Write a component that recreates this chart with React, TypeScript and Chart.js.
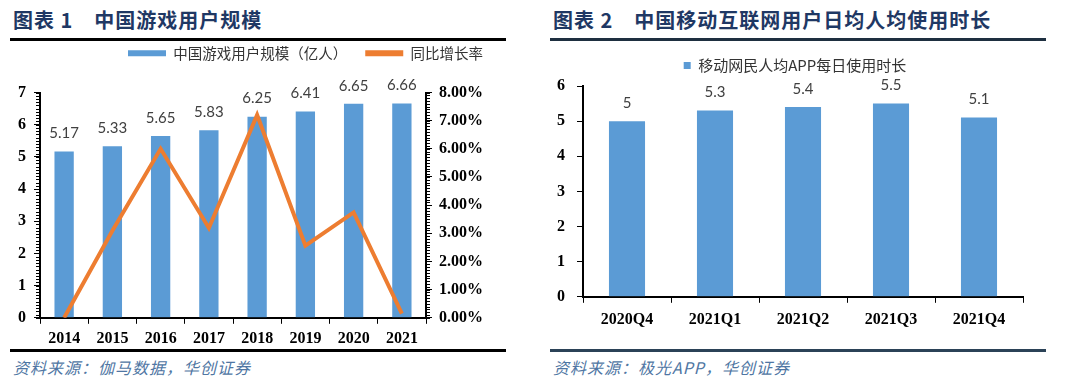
import React, { useEffect, useRef } from "react";
import { Chart, registerables } from "chart.js";

Chart.register(...registerables);

// ---- data ----
const years = ["2014", "2015", "2016", "2017", "2018", "2019", "2020", "2021"];
const gameUsers = [5.17, 5.33, 5.65, 5.83, 6.25, 6.41, 6.65, 6.66];
const yoyGrowth = [0, 3.09, 6.0, 3.19, 7.2, 2.56, 3.74, 0.15];
const quarters = ["2020Q4", "2021Q1", "2021Q2", "2021Q3", "2021Q4"];
const dailyHours = [5, 5.3, 5.4, 5.5, 5.1];

const leftTitle = "图表 1\u3000中国游戏用户规模";
const rightTitle = "图表 2\u3000中国移动互联网用户日均人均使用时长";
const leftSource = "资料来源：伽马数据，华创证券";
const rightSource = "资料来源：极光APP，华创证券";

const BLUE = "#5B9BD5";
const ORANGE = "#ED7D31";
const SERIF = "'Liberation Serif', 'Times New Roman', serif";
const CJK = "'Noto Sans CJK SC', sans-serif";

const barLabels = {
  id: "barLabels",
  afterDatasetsDraw(chart: any) {
    const ctx = chart.ctx;
    ctx.save();
    ctx.font = "15px Lato, 'Open Sans', sans-serif";
    ctx.fillStyle = "#404040";
    ctx.textAlign = "center";
    ctx.textBaseline = "middle";
    chart.data.datasets.forEach((ds: any, i: number) => {
      const meta = chart.getDatasetMeta(i);
      if (meta.type !== "bar") return;
      meta.data.forEach((el: any, j: number) => {
        ctx.fillText(String(ds.data[j]), el.x, el.y - 18);
      });
    });
    ctx.restore();
  },
};

const legendSpacer = {
  id: "legendSpacer",
  beforeInit(chart: any) {
    const extra = chart.options.plugins.legendSpacer?.extra ?? 0;
    const lg = chart.legend;
    const orig = lg.fit;
    lg.fit = function () {
      orig.call(lg);
      lg.height += extra;
    };
  },
};

// small tick marks between the labelled ticks, placed through each scale
const minorTickMarks = {
  id: "minorTickMarks",
  afterDraw(chart: any) {
    const cfg = chart.options.plugins.minorTickMarks;
    if (!cfg || !cfg.axes) return;
    const ctx = chart.ctx;
    ctx.save();
    ctx.strokeStyle = "#000";
    ctx.lineWidth = 1;
    cfg.axes.forEach((a: any) => {
      const s = chart.scales[a.id];
      if (!s) return;
      const n = Math.round((s.max - s.min) / a.step);
      const isLeft = s.position === "left";
      const x0 = isLeft ? s.right : s.left;
      const x1 = isLeft ? x0 - a.len : x0 + a.len;
      ctx.beginPath();
      for (let i = 0; i <= n; i++) {
        const y = Math.round(s.getPixelForValue(s.min + i * a.step)) + 0.5;
        ctx.moveTo(x0, y);
        ctx.lineTo(x1, y);
      }
      ctx.stroke();
    });
    ctx.restore();
  },
};

function noStrokeLabels(chart: any) {
  const base = (Chart.defaults as any).plugins.legend.labels.generateLabels(chart);
  return base.map((l: any) => ({ ...l, lineWidth: 0, strokeStyle: "transparent" }));
}

const tickFont = { family: SERIF, size: 16, weight: "bold" as const };

function LeftChart() {
  const ref = useRef<HTMLCanvasElement>(null);
  useEffect(() => {
    const chart = new Chart(ref.current!, {
      type: "bar",
      data: {
        labels: years,
        datasets: [
          {
            type: "bar",
            label: "中国游戏用户规模（亿人）",
            data: gameUsers,
            backgroundColor: BLUE,
            barPercentage: 0.4,
            categoryPercentage: 1,
            yAxisID: "y",
            order: 1,
          },
          {
            type: "line",
            label: "同比增长率",
            data: yoyGrowth,
            borderColor: ORANGE,
            backgroundColor: ORANGE,
            borderWidth: 4,
            pointRadius: 0,
            tension: 0,
            yAxisID: "y1",
            order: 0,
          },
        ] as any,
      },
      options: {
        animation: false,
        responsive: true,
        maintainAspectRatio: false,
        layout: { padding: { left: 0, right: 39, top: 0, bottom: 0 } },
        plugins: {
          legend: {
            align: "end",
            labels: {
              boxWidth: 38,
              boxHeight: 6,
              padding: 18,
              color: "#333",
              font: { family: CJK, size: 14.5 },
              generateLabels: noStrokeLabels,
              sort: (a: any, b: any) => a.datasetIndex - b.datasetIndex,
            },
          },
          tooltip: { enabled: false },
          legendSpacer: { extra: 22 },
          minorTickMarks: {
            axes: [
              { id: "y", step: 0.1, len: 4 },
              { id: "y1", step: 0.1, len: 4 },
            ],
          },
        } as any,
        scales: {
          x: {
            grid: { display: true, drawOnChartArea: false, color: "#000", tickLength: 6, offset: true },
            border: { color: "#000", width: 2 },
            ticks: { color: "#000", font: tickFont, padding: 5 },
          },
          y: {
            position: "left",
            min: 0,
            max: 7,
            afterFit: (s: any) => {
              s.width = 40;
            },
            grid: { drawOnChartArea: false, color: "#000", tickLength: 6 },
            border: { color: "#000", width: 2 },
            ticks: { stepSize: 1, color: "#000", font: tickFont, padding: 8 },
          },
          y1: {
            position: "right",
            min: 0,
            max: 8,
            afterFit: (s: any) => {
              s.width = 75;
            },
            grid: { drawOnChartArea: false, color: "#000", tickLength: 6 },
            border: { color: "#000", width: 2 },
            ticks: {
              stepSize: 1,
              color: "#000",
              font: tickFont,
              padding: 7,
              callback: (v: any) => Number(v).toFixed(2) + "%",
            },
          },
        },
      } as any,
      plugins: [barLabels, legendSpacer, minorTickMarks],
    });
    return () => chart.destroy();
  }, []);
  return <canvas ref={ref} />;
}

function RightChart() {
  const ref = useRef<HTMLCanvasElement>(null);
  useEffect(() => {
    const chart = new Chart(ref.current!, {
      type: "bar",
      data: {
        labels: quarters,
        datasets: [
          {
            label: "移动网民人均APP每日使用时长",
            data: dailyHours,
            backgroundColor: BLUE,
            barPercentage: 0.41,
            categoryPercentage: 1,
          },
        ],
      },
      options: {
        animation: false,
        responsive: true,
        maintainAspectRatio: false,
        layout: { padding: { left: 0, right: 30, top: 10, bottom: 14 } },
        plugins: {
          legend: {
            labels: {
              boxWidth: 7,
              boxHeight: 7,
              padding: 6,
              color: "#333",
              font: { family: CJK, size: 15 },
              generateLabels: noStrokeLabels,
            },
          },
          tooltip: { enabled: false },
          legendSpacer: { extra: 3 },
        } as any,
        scales: {
          x: {
            grid: { display: true, drawOnChartArea: false, color: "#000", tickLength: 6, offset: true },
            border: { color: "#000", width: 2 },
            ticks: { color: "#000", font: tickFont, padding: 7 },
          },
          y: {
            min: 0,
            max: 6,
            afterFit: (s: any) => {
              s.width = 43;
            },
            grid: { drawOnChartArea: false, color: "#000", tickLength: 6 },
            border: { color: "#000", width: 2 },
            ticks: { stepSize: 1, color: "#000", font: tickFont, padding: 12 },
          },
          y2: {
            position: "right",
            min: 0,
            max: 1,
            afterFit: (s: any) => {
              s.width = 27;
            },
            grid: { display: false },
            border: { display: false },
            ticks: { display: false },
          },
        },
      } as any,
      plugins: [barLabels, legendSpacer],
    });
    return () => chart.destroy();
  }, []);
  return <canvas ref={ref} />;
}

function Panel(props: {
  left: number;
  title: string;
  source: string;
  topRule: string;
  bottomRule: string;
  chartTop: number;
  chartBottom: number;
  children: React.ReactNode;
}) {
  const { left, title, source, topRule, bottomRule, chartTop, chartBottom, children } = props;
  return (
    <div style={{ position: "absolute", left, top: 0, width: 540, height: 384 }}>
      <div
        style={{
          position: "absolute",
          left: 13,
          top: 6,
          fontFamily: CJK,
          fontWeight: "bold",
          fontSize: 20,
          lineHeight: "28px",
          color: "#1F3864",
          whiteSpace: "pre",
          letterSpacing: 1,
        }}
      >
        {title}
      </div>
      <div style={{ position: "absolute", left: 10, top: 38, width: 496, height: 3, background: topRule }} />
      <div style={{ position: "absolute", left: 10, top: 349, width: 496, height: 3, background: bottomRule }} />
      <div
        style={{
          position: "absolute",
          left: 13,
          top: 355,
          fontFamily: CJK,
          fontStyle: "italic",
          fontSize: 16,
          lineHeight: "24px",
          color: "#4F76A3",
          letterSpacing: 1,
          whiteSpace: "pre",
        }}
      >
        {source}
      </div>
      <div
        style={{
          position: "absolute",
          left: 0,
          top: chartTop,
          width: 540,
          height: chartBottom - chartTop,
        }}
      >
        {children}
      </div>
    </div>
  );
}

export default function App() {
  return (
    <div
      style={{
        position: "absolute",
        left: 0,
        top: 0,
        width: 1080,
        height: 384,
        background: "#fff",
        overflow: "hidden",
      }}
    >
      <Panel
        left={0}
        chartTop={28}
        chartBottom={353}
        title={leftTitle}
        source={leftSource}
        topRule="#000"
        bottomRule="#000"
      >
        <LeftChart />
      </Panel>
      <Panel
        left={540}
        chartTop={42}
        chartBottom={350}
        title={rightTitle}
        source={rightSource}
        topRule="#1E2F40"
        bottomRule="#2B4257"
      >
        <RightChart />
      </Panel>
    </div>
  );
}
